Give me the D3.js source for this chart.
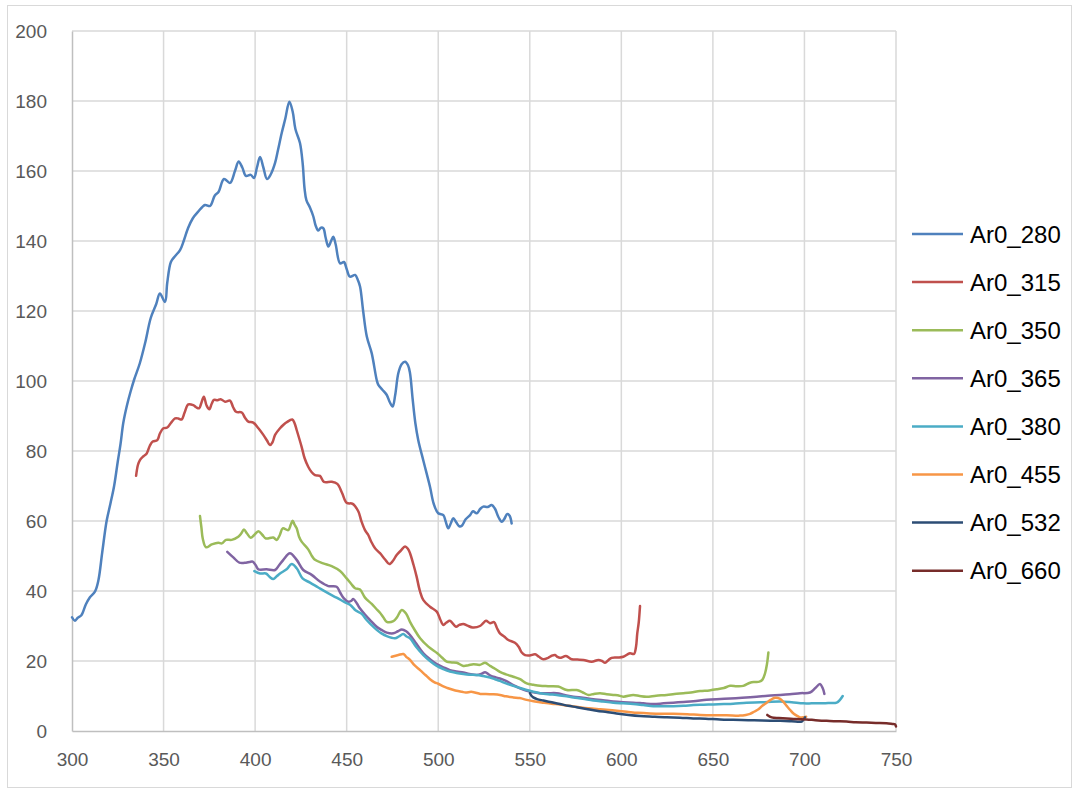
<!DOCTYPE html>
<html><head><meta charset="utf-8">
<script src="https://cdn.jsdelivr.net/npm/d3@7/dist/d3.min.js"></script>
<style>body{margin:0;background:#fff}svg{display:block}</style>
</head><body>
<svg id="chart" width="1078" height="794"></svg>
<script>
const seriesNames = ["Ar0_280","Ar0_315","Ar0_350","Ar0_365","Ar0_380","Ar0_455","Ar0_532","Ar0_660"];
const seriesColors = ["#4F81BD","#C0504D","#9BBB59","#8064A2","#4BACC6","#F79646","#2C4D75","#772C2A"];
const xTicks = [300,350,400,450,500,550,600,650,700,750];
const yTicks = [0,20,40,60,80,100,120,140,160,180,200];

const ar0_280 = [[300,32.5],[301.6,31.5],[303,32.3],[305,33],[306,34],[307.6,36.2],[309.8,38.2],[312.6,39.9],[314.4,43],[316.5,51],[318.9,60],[321,65],[323,70],[325,77],[326.5,82],[328,88],[330,93],[332,97],[334,100.5],[337,105],[340,111],[343,118],[346,122],[348,125],[350.8,122.6],[352,128],[354,134],[356,135.5],[359,137.4],[361,140],[363.4,143.7],[366,146.5],[368.8,148.3],[372.6,150.3],[375.4,150],[378,153],[380,154],[383,157.7],[386.3,156.6],[389,160],[391,162.7],[393,161],[395,158.6],[397.6,158.9],[399.4,158],[401,161],[402.7,164],[404.5,161],[406.5,157.7],[408.5,159],[410.9,162.3],[412.5,166],[414.5,170.8],[416.5,175],[418.7,179.8],[420.5,177],[422,172],[424.5,168],[426,162],[427,155],[428,151.7],[430,149.5],[431.8,147],[433,144.5],[434.5,143],[436,143.8],[437.3,143.6],[438.5,141],[440,138.4],[441.5,140],[442.7,141.2],[444,139],[446.4,133.6],[448.5,134],[450,132],[451.8,129.8],[454.6,130.3],[456,129],[457.3,127],[459,120],[461,112.7],[463.7,107.9],[466.4,100.3],[467.3,98.9],[469.5,97.5],[471.9,96],[473.5,94],[475.1,92.7],[476.5,96],[478.2,102.2],[480,104.8],[481.9,105.5],[483.5,104.5],[484.6,102.2],[486,95],[487.5,88],[489.1,83.1],[492,77],[495.5,69.8],[497.5,65],[500,62.2],[502.8,61.7],[504,60],[505.5,57.9],[507,59.5],[508.2,60.8],[510,59.5],[511.5,58.5],[512.8,58.6],[515,60.5],[517.4,61.7],[519,62.8],[521,62.2],[523,63.5],[524.6,64.1],[527,64],[529.2,64.6],[531,63.5],[533,61],[534.7,59.8],[536,60.5],[537.7,62],[539,61.5],[540.1,59.3]];
const ar0_315 = [[335,72.9],[336,76],[337.1,77.4],[339,78.5],[340.8,79.3],[342.5,81.5],[344.1,82.7],[346.6,83.1],[348,85],[349.9,86.5],[352,86.7],[354,88],[356.3,89.3],[358,89.3],[359.9,89],[361.5,91],[363.5,93.3],[366.2,93.1],[367.8,92.5],[369.4,92.2],[370.5,93.5],[372,95.5],[373.5,93],[375,91.9],[376.3,93.5],[377.5,94.6],[379.5,94.5],[381.2,94.8],[383.6,94.1],[386.3,94.4],[388,92.5],[389.6,91.2],[392.7,91],[394.5,89.5],[396.3,88.4],[399,88.1],[401.8,86.5],[404.5,84.6],[406.5,83],[408.1,81.7],[409.5,82.5],[410.9,84.6],[413.6,86.5],[415.5,87.5],[417.2,88.2],[420.3,89],[421.5,88],[422.7,86],[425.4,81.2],[427,78],[429,75.5],[430.8,74],[432.7,73.1],[435.4,72.9],[437.6,71.2],[441.8,71.2],[444.9,70.6],[447.5,68],[450,65.2],[453.3,64.9],[456.4,62.7],[458,60],[460,57.4],[461.8,56],[463.5,54],[465.5,52.2],[468.2,50.8],[471,49],[473.3,47.7],[475.5,48.8],[477.3,50.3],[479.5,51.5],[481.9,52.7],[483.5,52],[484.6,50.8],[486.5,47.5],[488.2,44.1],[490,40],[491.9,37.4],[495.5,35.5],[499.2,34.1],[501,32],[502.8,30.3],[504.5,31],[506.4,31.5],[509.7,29.8],[511.5,30.3],[513.7,30.6],[516,30.1],[518.8,29.6],[522.8,30],[524.5,30.8],[526.1,31.5],[528.3,30.8],[530.5,31.1],[532,29.5],[533.7,27.9],[536,27],[538.3,26],[541.9,25.2],[544,24],[545.5,22.5],[547.4,21.7],[550,21.6],[552.9,21.9],[555,21.2],[557.4,20.5],[560,20.9],[562,21.5],[563.8,21.7],[565,21.2],[566.5,20.9],[569.8,21.4],[572.9,20.5],[576,20.4],[579.3,20.3],[583.8,19.8],[587.5,20.3],[589.5,20],[591.1,19.5],[593,20.3],[594.7,20.9],[598,21],[601.1,21.2],[604.7,22.2],[606.9,22],[608,24],[608.7,27.9],[609.5,31],[610.2,35.7]];
const ar0_350 = [[369.9,61.4],[370.7,58],[371.4,55],[373.2,52.5],[376.3,53.3],[379.9,53.8],[381.8,53.6],[384.1,54.6],[387.2,54.6],[390.8,55.5],[392.5,56.5],[393.9,57.6],[395.5,56.5],[397.6,55.2],[399.5,56],[401.8,57.1],[404,56],[405.9,55],[409.9,55.3],[411.8,54.6],[413.5,56],[415.1,57.9],[418.1,57.4],[419.5,59],[420.5,60.1],[421.5,59],[422.7,57.9],[424,55.5],[425.4,54.1],[429,51.9],[431,50],[432.7,48.9],[437.2,47.9],[441.8,47.1],[446.4,45.7],[450,43.6],[452.5,42],[454.6,40.8],[457.3,40.4],[460,38.1],[463.7,36.3],[466,35],[468.2,33.8],[470,32.5],[471.9,31.2],[475.5,31.4],[477.5,32.5],[480.1,34.6],[482.5,33.5],[484.6,31.2],[487,29],[490.1,26.5],[494.6,24.1],[499.5,22.2],[502,21],[504.6,19.8],[507.5,19.6],[510.1,19.5],[513.7,18.6],[516.5,18.8],[519.2,19.1],[522.8,18.9],[525.6,19.5],[528.3,18.6],[531,17.8],[533.7,16.9],[537,16.2],[541,15.5],[544.7,14.8],[548.3,13.6],[552,13.2],[555.6,12.9],[560,12.8],[565.6,12.7],[570.2,11.7],[575.6,11.7],[579,11],[582,10.3],[585,10.6],[588.4,10.8],[592,10.5],[595.6,10.3],[598,10.2],[601.1,9.8],[606.5,10.3],[610,10],[613.8,9.8],[619,10.1],[624.8,10.3],[629,10.6],[633.9,10.8],[638,11],[643,11.4],[648,11.6],[652.1,11.9],[656,12.3],[659.4,12.9],[663,12.8],[666.6,12.9],[670.3,13.8],[673,14],[675.4,14.1],[677,14.6],[678.5,16.5],[679.5,19],[680.3,22.4]];
const ar0_365 = [[384.8,51.2],[388.1,49.6],[391.4,48.1],[395,48.1],[397,48.3],[398.7,48.4],[400.5,47.2],[401.8,46.2],[406.3,46.2],[410.9,46],[413,47.3],[415.4,48.9],[419,50.8],[422.7,48.9],[426.3,46],[430.9,44.6],[435.4,42.7],[440,41.4],[444.5,41.2],[446.5,39.5],[448.5,37.9],[450.9,36.9],[452.5,37.2],[453.6,37.7],[455.5,36.5],[457.3,35],[460,33.3],[462.8,31.7],[466.4,29.8],[469,28.9],[471.9,28.1],[475.5,27.9],[478,28.5],[480.1,29],[482.5,28.5],[484.6,27.4],[488,25],[491.9,22.2],[495.5,20.5],[499.2,19.1],[502.8,18.2],[506.4,17.4],[510,17],[513.7,16.7],[517,16.3],[521,16],[523.5,16.3],[525.6,16.8],[528,16],[530.1,15.5],[533.7,15],[537,14.3],[541,13.1],[544.7,12.2],[548.3,11.5],[552,11.1],[555.6,10.8],[560,10.8],[564.7,10.8],[569,10.3],[573.8,9.8],[579,9.5],[584.7,9.1],[590,8.8],[595.6,8.4],[601,8.2],[606.5,8.1],[612,7.9],[617.5,7.7],[623,7.9],[628.4,8.1],[634,8.3],[639.3,8.5],[646.6,8.9],[652,9.1],[659.4,9.3],[666,9.5],[673.9,9.8],[680,10.1],[686.7,10.3],[692,10.5],[697.6,10.8],[703,11],[705.8,12.2],[708.5,13.4],[710,12.2],[710.9,10.6]];
const ar0_380 = [[399.6,45.7],[402.7,45],[405.9,45],[408,44],[409.9,43.4],[411.8,44.2],[413.6,45],[417.2,46.2],[420,47.7],[422.7,46.5],[425.9,43.6],[430,42.4],[434.5,41],[439.1,39.6],[444.5,38.1],[450,36.5],[452,36],[455,34.4],[458.2,33.5],[460.9,31.7],[463.5,30.3],[466.4,28.9],[469,27.9],[471.9,27.1],[476.4,26.5],[478.5,27],[480.9,27.7],[482.7,27],[484.6,26.5],[488,24],[491.9,21.7],[495.5,20],[499.2,18.6],[502.8,17.7],[506.4,17],[510,16.6],[513.7,16.3],[517,16.1],[521,16],[524.6,15.7],[528.3,15.3],[531,14.8],[533.7,14.3],[537,13.6],[541,12.9],[544.7,12.3],[548.3,11.7],[552,11.2],[555.6,10.8],[560,10.5],[564.7,10.3],[569,10],[573.8,9.6],[579,9.2],[584.7,8.7],[590,8.4],[595.6,8.1],[601,7.9],[606.5,7.7],[612,7.4],[617.5,7.1],[623,7.1],[628.4,7.1],[634,7.2],[639.3,7.4],[645,7.5],[650.2,7.6],[656,7.7],[661.1,7.8],[668.4,8.1],[676,8.2],[686.7,8.4],[693,8.2],[699.4,7.9],[704,7.9],[708.5,7.9],[713,8],[717.6,8.1],[719.4,8.9],[720.9,10]];
const ar0_455 = [[474.6,21.2],[478.2,21.7],[481,22],[482.5,21.2],[484.6,20.3],[487,18.8],[490.1,17.4],[493,16],[495.5,14.8],[498,13.9],[500,13.5],[502.5,12.8],[505,12.3],[508,11.8],[510,11.5],[513,11.2],[515,11],[518,11.2],[520,11],[523,10.6],[526,10.6],[530,10.5],[533.7,10.3],[537,9.9],[541,9.6],[544.5,9.4],[548.3,8.9],[552,8.5],[557.4,8.1],[562,7.8],[566.5,7.6],[571,7.2],[575.6,6.9],[582,6.5],[588.4,6.2],[595,5.9],[603,5.5],[609,5.2],[615.7,5],[622,4.9],[628.4,4.9],[636,4.8],[643,4.6],[650,4.5],[657.5,4.5],[664.8,4.4],[668,4.6],[670.3,4.9],[672.5,5.5],[674.9,6.2],[677,7.2],[679.4,8.1],[681.5,8.9],[684,9.5],[686.7,9.2],[688.5,8.3],[690.4,7.1],[692.2,6],[694,5],[696,4.3],[697.6,3.9],[699,3.9],[700.9,4.1]];
const ar0_532 = [[550.1,10.8],[551,10],[551.9,9.6],[554,9.1],[557.4,8.7],[562,8.2],[566.5,7.7],[571,7.2],[575.6,6.8],[581,6.3],[586.5,5.8],[592,5.4],[597.4,5],[604,4.6],[610.2,4.3],[617,4.1],[624.8,3.9],[632,3.8],[639.3,3.6],[646,3.5],[653.9,3.3],[661,3.2],[669.3,3.1],[677,3],[686.7,2.9],[693,2.8],[698.5,2.7],[699.5,3.3],[700.3,3.9]];
const ar0_660 = [[679.7,4.6],[682.1,3.9],[686,3.7],[690.3,3.6],[695,3.4],[701.2,3.3],[706,3.1],[712.1,2.9],[717,2.8],[723,2.7],[728,2.5],[733.9,2.4],[739,2.3],[744.8,2.2],[748,2],[749.4,1.9],[750,1.3]];
const seriesData = [ar0_280, ar0_315, ar0_350, ar0_365, ar0_380, ar0_455, ar0_532, ar0_660];

const svg = d3.select("#chart");
const M = {left:72, right:896, top:31, bottom:731};
const x = d3.scaleLinear().domain([300,750]).range([M.left, M.right]);
const y = d3.scaleLinear().domain([0,200]).range([M.bottom, M.top]);

// chart border
svg.append("rect").attr("x",7.5).attr("y",5.5).attr("width",1064).attr("height",782)
  .attr("fill","#fff").attr("stroke","#D9D9D9").attr("stroke-width",1);

// gridlines
const grid = svg.append("g");
grid.selectAll("line.h").data(yTicks.filter(d=>d>0)).join("line")
  .attr("x1",M.left).attr("x2",M.right).attr("y1",d=>y(d)).attr("y2",d=>y(d))
  .attr("stroke","#D9D9D9").attr("stroke-width",1.5);
grid.selectAll("line.v").data(xTicks.filter(d=>d>300)).join("line")
  .attr("x1",d=>x(d)).attr("x2",d=>x(d)).attr("y1",M.top).attr("y2",M.bottom)
  .attr("stroke","#D9D9D9").attr("stroke-width",1.5);

// axes
const yAxis = d3.axisLeft(y).tickValues(yTicks).tickSize(0).tickPadding(25);
const gy = svg.append("g").attr("transform",`translate(${M.left},0)`).call(yAxis);
gy.select(".domain").attr("stroke","#BFBFBF").attr("stroke-width",1.5);
gy.selectAll("text").attr("fill","#595959").attr("font-family","Liberation Sans, Arial, sans-serif").attr("font-size","19px");

const xAxis = d3.axisBottom(x).tickValues(xTicks).tickSize(0).tickPadding(22);
const gx = svg.append("g").attr("transform",`translate(0,${M.bottom})`).call(xAxis);
gx.select(".domain").attr("stroke","#BFBFBF").attr("stroke-width",1.5);
gx.selectAll("text").attr("fill","#595959").attr("font-family","Liberation Sans, Arial, sans-serif").attr("font-size","19px");

// lines
const line = d3.line().x(d=>x(d[0])).y(d=>y(d[1])).curve(d3.curveCatmullRom.alpha(0.5));
svg.append("g").selectAll("path").data(seriesData).join("path")
  .attr("d",line).attr("fill","none")
  .attr("stroke",(d,i)=>seriesColors[i]).attr("stroke-width",2.5)
  .attr("stroke-linejoin","round").attr("stroke-linecap","round");

// legend
const leg = svg.append("g").selectAll("g").data(seriesNames).join("g")
  .attr("transform",(d,i)=>`translate(912,${234 + i*48.1})`);
leg.append("line").attr("x1",0).attr("x2",51).attr("y1",0).attr("y2",0)
  .attr("stroke",(d,i)=>seriesColors[i]).attr("stroke-width",2.5);
leg.append("text").attr("x",58).attr("y",0).attr("dy","0.36em")
  .attr("font-family","Liberation Sans, Arial, sans-serif").attr("font-size","24px")
  .attr("fill","#000").text(d=>d);
</script>
</body></html>
